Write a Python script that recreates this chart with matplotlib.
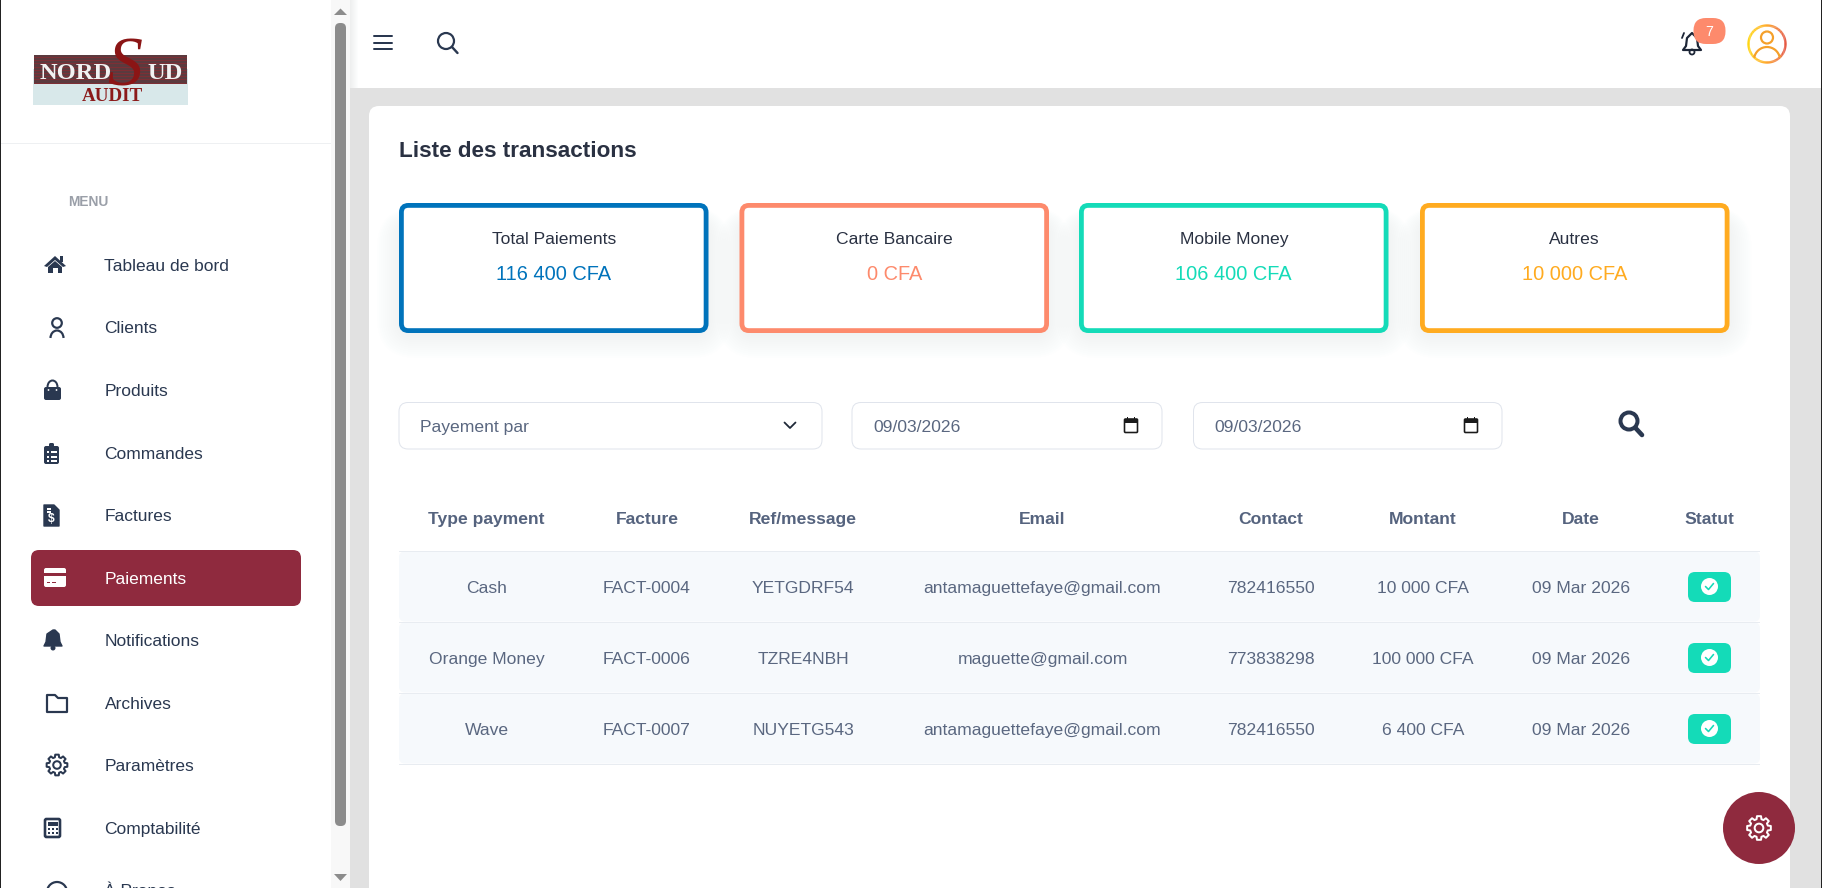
"""Recreates the Nord Sud Audit "Liste des transactions" page as a matplotlib figure."""
import numpy as np
import matplotlib
matplotlib.use("Agg")
import matplotlib.pyplot as plt
from matplotlib.collections import LineCollection
from matplotlib.colors import LinearSegmentedColormap
from matplotlib.patches import Arc, Circle, FancyBboxPatch, Polygon, Rectangle

plt.rcParams["font.family"] = ["Liberation Sans", "DejaVu Sans"]

DPI = 100
WIDTH, HEIGHT = 1822, 888

MENU_LABELS = ["Tableau de bord", "Clients", "Produits", "Commandes", "Factures", "Paiements",
               "Notifications", "Archives", "Paramètres", "Comptabilité", "À Propos"]
CARD_TITLES = ["Total Paiements", "Carte Bancaire", "Mobile Money", "Autres"]
CARD_VALUES = ["116 400 CFA", "0 CFA", "106 400 CFA", "10 000 CFA"]
TABLE_HEADERS = ["Type payment", "Facture", "Ref/message", "Email", "Contact", "Montant", "Date", "Statut"]
PAY_TYPES = ["Cash", "Orange Money", "Wave"]
INVOICES = ["FACT-0004", "FACT-0006", "FACT-0007"]
REFS = ["YETGDRF54", "TZRE4NBH", "NUYETG543"]
EMAILS = ["antamaguettefaye@gmail.com", "maguette@gmail.com", "antamaguettefaye@gmail.com"]
CONTACTS = ["782416550", "773838298", "782416550"]
AMOUNTS = ["10 000 CFA", "100 000 CFA", "6 400 CFA"]
DATES = ["09 Mar 2026", "09 Mar 2026", "09 Mar 2026"]
FILTER_DATES = ["09/03/2026", "09/03/2026"]
NOTIFICATION_COUNT = "7"

MENU_Y = [265, 327, 390, 453, 515, 578, 640, 703, 765, 828, 890]
CARD_LEFT = [399, 739.5, 1079, 1420]
COLUMN_X = [486.5, 647, 803, 1042.5, 1271, 1423, 1581, 1709]
ROW_TOPS = [551, 622, 693]

NAVY = "#2a3850"
BORDEAUX = "#8f2a3e"
TEAL = "#14dbb8"
CORAL = "#fd8a6c"
CARD_COLORS = ["#0073bb", CORAL, TEAL, "#ffab20"]
GREY_TEXT = "#5a6780"


fig = plt.figure(figsize=(WIDTH / DPI, HEIGHT / DPI), dpi=DPI, facecolor="white")
ax = fig.add_axes([0, 0, 1, 1])
ax.set_xlim(0, WIDTH)
ax.set_ylim(HEIGHT, 0)
ax.axis("off")


def px(size):
    """Converts pixels to points for font sizes and line widths."""
    return size * 72 / DPI


def text(x, y, label, size=17.5, color=NAVY, ha="left", weight="normal", **kwargs):
    """Writes a label whose capitals are centred vertically on y."""
    ax.text(x, y + 0.36 * size, label, fontsize=px(size), color=color, ha=ha, va="baseline",
            fontweight=weight, zorder=6, **kwargs)


def rect(x0, y0, x1, y1, color, zorder=1, alpha=1):
    ax.add_patch(Rectangle((x0, y0), x1 - x0, y1 - y0, fc=color, ec="none", zorder=zorder, alpha=alpha))


def round_box(x0, y0, x1, y1, radius, fc="none", ec="none", lw=0, zorder=2, alpha=1):
    ax.add_patch(FancyBboxPatch((x0, y0), x1 - x0, y1 - y0,
                                boxstyle=f"round,pad=0,rounding_size={radius}",
                                fc=fc, ec=ec, lw=px(lw), zorder=zorder, alpha=alpha))


def line(xs, ys, color=NAVY, lw=2, zorder=5):
    ax.plot(xs, ys, color=color, lw=px(lw), solid_capstyle="round", solid_joinstyle="round", zorder=zorder)


def gear(cx, cy, outer, color, lw=2, zorder=6):
    """Outlined eight tooth cog with a round hole."""
    angles, radii = [], []
    for i in range(8):
        mid = i * np.pi / 4
        angles += [mid - 0.27, mid - 0.17, mid + 0.17, mid + 0.27]
        radii += [outer * 0.76, outer, outer, outer * 0.76]
    xs = cx + np.array(radii) * np.cos(angles)
    ys = cy + np.array(radii) * np.sin(angles)
    ax.add_patch(Polygon(np.column_stack([xs, ys]), closed=True, fc="none", ec=color, lw=px(lw),
                         joinstyle="round", zorder=zorder))
    ax.add_patch(Circle((cx, cy), outer * 0.36, fc="none", ec=color, lw=px(lw), zorder=zorder))


def draw_home(y):
    ax.add_patch(Polygon([(44, y + 1), (55, y - 9), (66, y + 1), (63, y + 2), (55, y - 5), (47, y + 2)],
                         fc=NAVY, zorder=5))
    ax.add_patch(Polygon([(48, y + 2), (55, y - 4), (62, y + 2), (62, y + 8), (58, y + 8), (58, y + 3),
                          (53, y + 3), (53, y + 8), (48, y + 8)], fc=NAVY, zorder=5))
    rect(60, y - 9, 63, y - 3, NAVY, 5)


def draw_user(y):
    ax.add_patch(Circle((57, y - 4), 4.8, fc="none", ec=NAVY, lw=px(2.2), zorder=5))
    ax.add_patch(Arc((57, y + 11), 13, 15, theta1=180, theta2=360, ec=NAVY, lw=px(2.2), zorder=5))


def draw_bag(y):
    round_box(44, y - 3, 61, y + 10, 2, fc=NAVY, zorder=5)
    ax.add_patch(Arc((52.5, y - 3), 10, 13, theta1=180, theta2=360, ec=NAVY, lw=px(2), zorder=5))
    ax.add_patch(Circle((48.5, y), 0.9, fc="white", zorder=6))
    ax.add_patch(Circle((56.5, y), 0.9, fc="white", zorder=6))


def draw_clipboard(y):
    round_box(44, y - 7, 59, y + 11, 2, fc=NAVY, zorder=5)
    round_box(49, y - 10, 54, y - 5, 1.5, fc=NAVY, zorder=5)
    for dy in (-1, 4, 8):
        rect(47, y + dy - 0.7, 49, y + dy + 0.7, "white", 6)
        rect(50.5, y + dy - 0.7, 56.5, y + dy + 0.7, "white", 6)


def draw_invoice(y):
    ax.add_patch(Polygon([(44, y - 10), (54, y - 10), (59, y - 5), (59, y + 11), (44, y + 11)],
                         fc=NAVY, ec=NAVY, lw=1, joinstyle="round", zorder=5))
    rect(47, y - 7, 51, y - 5.5, "white", 6)
    rect(47, y - 4, 51, y - 2.5, "white", 6)
    ax.text(51.5, y + 4, "$", fontsize=px(12), color="white", ha="center", va="center",
            fontweight="bold", zorder=6)


def draw_credit_card(y):
    round_box(44, y - 10, 66, y + 9, 2, fc="white", zorder=5)
    rect(44, y - 5, 66, y - 2, BORDEAUX, 6)
    rect(47, y + 3.5, 50, y + 5, BORDEAUX, 6)
    rect(52, y + 3.5, 56, y + 5, BORDEAUX, 6)


def draw_bell(y):
    ax.add_patch(Polygon([(53, y - 10), (55, y - 10), (59, y - 6), (60, y + 2), (62, y + 6), (44, y + 6),
                          (46, y + 2), (47, y - 6)], fc=NAVY, ec=NAVY, lw=1, joinstyle="round", zorder=5))
    ax.add_patch(Circle((53, y + 8), 2.5, fc=NAVY, zorder=5))


def draw_folder(y):
    ax.add_patch(Polygon([(47, y - 8), (55, y - 8), (58, y - 5), (67, y - 5), (67, y + 9), (47, y + 9)],
                         fc="none", ec=NAVY, lw=px(2.2), joinstyle="round", zorder=5))


def draw_calculator(y):
    round_box(45, y - 9, 60, y + 9, 1.5, ec=NAVY, lw=2.6, zorder=5)
    rect(48, y - 6, 57.5, y - 2, NAVY, 5)
    for dx in (48.5, 52.5, 56.5):
        rect(dx - 1, y, dx + 1, y + 2, NAVY, 5)
        rect(dx - 1, y + 4, dx + 1, y + 6, NAVY, 5)


def draw_clock(y):
    ax.add_patch(Circle((57, y + 2), 10, fc="none", ec=NAVY, lw=px(2.2), zorder=5))


def draw_sidebar():
    rect(0, 0, 1.2, HEIGHT, "#222222", 8)
    rect(1820.5, 0, WIDTH, HEIGHT, "#222222", 8)
    rect(331, 0, 350, HEIGHT, "#f8f8f8", 1)
    round_box(335, 23, 346, 826, 5, fc="#8c8c8c", zorder=3)
    ax.add_patch(Polygon([(334, 15), (340.5, 8.5), (347, 15)], fc="#8c8c8c", zorder=3))
    ax.add_patch(Polygon([(334, 874), (340.5, 881), (347, 874)], fc="#8c8c8c", zorder=3))
    rect(1, 143, 331, 144, "#eef0f2", 2)

    # logo
    rect(33, 69, 188, 105, "#d8e8ea", 2)
    rect(34, 55, 187, 83, "#5b3a3e", 3)
    for y in np.arange(57, 83, 3.2):
        rect(34, y, 187, y + 1, "#7d2f35", 3)
    ax.text(125, 85, "S", fontsize=px(70), family="Liberation Serif", style="italic", color="#8b1515",
            ha="center", va="baseline", zorder=4)
    ax.text(40, 79, "NORD", fontsize=px(24.5), family="Liberation Serif", fontweight="bold",
            color="#f2f2f2", va="baseline", zorder=5)
    ax.text(147, 79, "UD", fontsize=px(24.5), family="Liberation Serif", fontweight="bold",
            color="#f2f2f2", va="baseline", zorder=5)
    ax.text(112, 101, "AUDIT", fontsize=px(19), family="Liberation Serif", fontweight="bold",
            color="#8b1a1a", ha="center", va="baseline", zorder=5)

    text(68.5, 201, "MENU", size=13.8, color="#9a9fa8", weight="bold")
    round_box(31, 550, 301, 606, 8, fc=BORDEAUX, zorder=2)

    icons = [draw_home, draw_user, draw_bag, draw_clipboard, draw_invoice, draw_credit_card, draw_bell,
             draw_folder, None, draw_calculator, draw_clock]
    for label, y, icon in zip(MENU_LABELS, MENU_Y, icons):
        if icon is None:
            gear(57, y, 10.5, NAVY)
        else:
            icon(y)
        text(104.5, y, label, size=17.4, color="white" if label == "Paiements" else NAVY)


def draw_topbar():
    rect(350, 88, WIDTH, HEIGHT, "#e1e1e1", 0)
    # soft shadow the sidebar throws on the top bar
    for i in range(8):
        rect(350, 0, 358 - i, 88, "#c4ccd4", 0.5, alpha=0.035)
    for y in (36, 43, 49.5):
        line([373.5, 391.5], [y, y], lw=2)
    ax.add_patch(Circle((446, 41), 8, fc="none", ec=NAVY, lw=px(2.2), zorder=5))
    line([452, 457.5], [47, 53], lw=2.4)

    # notification bell with its counter
    ax.add_patch(Polygon([(1692, 33), (1697, 38), (1698, 46), (1701, 50), (1683, 50), (1686, 46), (1687, 38)],
                         fc="none", ec="#1c2536", lw=px(2.2), joinstyle="round", zorder=5))
    ax.add_patch(Circle((1692, 52), 2.5, fc="none", ec="#1c2536", lw=px(1.8), zorder=5))
    line([1684, 1682], [33, 38], color="#1c2536", lw=1.8)
    round_box(1693.5, 18, 1725.5, 44, 12.5, fc=CORAL, zorder=6)
    text(1709.5, 31, NOTIFICATION_COUNT, size=14, color="white", ha="center")

    # avatar ring, yellow on the left to red on the right
    cmap = LinearSegmentedColormap.from_list("avatar", ["#ffd60a", "#ffa726", "#e5533c"])
    theta = np.linspace(0, 2 * np.pi, 121)
    xs, ys = 1767 + 18.5 * np.cos(theta), 44 + 18.5 * np.sin(theta)
    segments = np.stack([np.column_stack([xs[:-1], ys[:-1]]), np.column_stack([xs[1:], ys[1:]])], axis=1)
    ring = LineCollection(segments, colors=cmap((xs[:-1] - 1748) / 37), linewidths=px(2.4), zorder=5)
    ax.add_collection(ring)
    ax.add_patch(Circle((1767, 37.5), 6, fc="none", ec="#f5a02a", lw=px(2.2), zorder=5))
    ax.add_patch(Arc((1767, 60), 26, 26, theta1=190, theta2=350, ec="#f5a02a", lw=px(2.2), zorder=5))


def draw_cards():
    round_box(369, 106, 1790, 960, 10, fc="white", zorder=1)
    text(399, 149, "Liste des transactions", size=22.5, color="#2a3142", weight="bold")
    for left, title, value, color in zip(CARD_LEFT, CARD_TITLES, CARD_VALUES, CARD_COLORS):
        right = left + 309.5
        # faint drop shadow, strongest just under the card
        for grow in range(2, 30, 2):
            round_box(left + 6 - grow, 222 - grow / 2, right - 6 + grow, 330 + grow, 12 + grow,
                      fc="#c8cfdb", zorder=1.5, alpha=0.018)
        round_box(left + 2.4, 205.4, right - 2.4, 330.6, 7, fc="white", ec=color, lw=4.8, zorder=3)
        text((left + right) / 2, 238, title, color="#2a3142", ha="center")
        text((left + right) / 2, 273, value, size=20, color=color, ha="center")


def draw_calendar(cx, cy):
    round_box(cx - 6.5, cy - 6, cx + 6.5, cy + 7.5, 1, fc="white", ec="#1a1a1a", lw=1.6, zorder=5)
    rect(cx - 6.5, cy - 6, cx + 6.5, cy - 2, "#1a1a1a", 5)
    rect(cx - 4, cy - 8, cx - 2.6, cy - 5, "#1a1a1a", 5)
    rect(cx + 2.6, cy - 8, cx + 4, cy - 5, "#1a1a1a", 5)


def draw_filters():
    round_box(399, 402.5, 822, 449, 9, fc="white", ec="#e0e4ec", lw=1)
    text(420, 426, "Payement par", color=GREY_TEXT)
    line([784.5, 790, 795.5], [422.5, 428, 422.5], color="#1f2937", lw=1.8)
    for x0, x1, label in zip((852, 1193.5), (1162, 1502), FILTER_DATES):
        round_box(x0, 402.5, x1, 449, 9, fc="white", ec="#e0e4ec", lw=1)
        text(x0 + 21, 426, label, color=GREY_TEXT)
        draw_calendar(x1 - 31, 425)
    ax.add_patch(Circle((1629, 421), 8.5, fc="none", ec=NAVY, lw=px(4), zorder=5))
    line([1635.5, 1642], [428, 435], lw=4.6)


def draw_table():
    for x, label in zip(COLUMN_X, TABLE_HEADERS):
        text(x, 518, label, color="#55637e", ha="center", weight="bold")
    rect(399, 550.5, 1760, 551.5, "#e8ecf1", 3)
    columns = [PAY_TYPES, INVOICES, REFS, EMAILS, CONTACTS, AMOUNTS, DATES]
    for i, top in enumerate(ROW_TOPS):
        round_box(399, top + 0.5, 1760, top + 70.5, 6, fc="#f6f9fc", zorder=2)
        rect(399, top + 70.5, 1760, top + 71.5, "#e8ecf1", 3)
        center = top + 36
        for x, column in zip(COLUMN_X, columns):
            text(x, center, column[i], color=GREY_TEXT, ha="center")
        round_box(1688, center - 15, 1731, center + 15, 7, fc=TEAL, zorder=4)
        ax.add_patch(Circle((1709.5, center - 0.5), 8.5, fc="white", zorder=5))
        line([1705.5, 1708.5, 1713.5], [center - 0.5, center + 2.5, center - 3.5], color=TEAL, lw=1.6, zorder=6)


def draw_settings_button():
    ax.add_patch(Circle((1759, 828), 36, fc=BORDEAUX, zorder=7))
    gear(1759, 828, 12, "white", lw=2, zorder=8)


draw_sidebar()
draw_topbar()
draw_cards()
draw_filters()
draw_table()
draw_settings_button()

fig.savefig("out.png", dpi=DPI, facecolor="white")
